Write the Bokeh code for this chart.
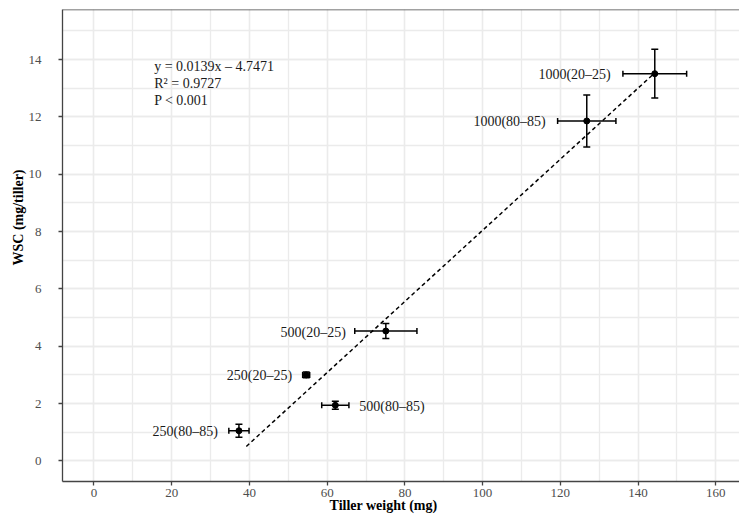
import numpy as np
from bokeh.plotting import figure
from bokeh.models import (ColumnDataSource, Whisker, TeeHead, Label, Span,
                          FixedTicker)
from bokeh.core.properties import value
from bokeh.embed import file_html
from bokeh.resources import INLINE

# ---- data ----
labels = ["250(80–85)", "250(20–25)", "500(80–85)", "500(20–25)", "1000(80–85)", "1000(20–25)"]
tiller_weight = [37.3, 54.6, 62.1, 75.1, 126.8, 144.3]
tiller_weight_err = [2.6, 0.9, 3.5, 8.0, 7.5, 8.2]
wsc = [1.05, 3.00, 1.94, 4.53, 11.86, 13.51]
wsc_err = [0.23, 0.10, 0.14, 0.26, 0.91, 0.85]
x_ticks = [0, 20, 40, 60, 80, 100, 120, 140, 160]
y_ticks = [0, 2, 4, 6, 8, 10, 12, 14]
equation_lines = ["y = 0.0139x – 4.7471", "R² = 0.9727", "P < 0.001"]
fit_start = 39.2

# ---- label placement (styling) ----
label_dx = [-21, -14, 24, -40, -41, -44]
label_align = ["right", "right", "left", "right", "right", "right"]

FONT = "Liberation Serif"
INK = "#1a1a1a"
AXIS = "#444444"
GRID = "#ebebeb"
NB = "\u00a0"

x = np.array(tiller_weight)
y = np.array(wsc)
xe = np.array(tiller_weight_err)
ye = np.array(wsc_err)

src = ColumnDataSource(dict(
    x=x, y=y,
    xl=x - xe, xu=x + xe,
    yl=y - ye, yu=y + ye,
    label=labels, dx=label_dx, align=label_align,
))

p = figure(width=739, height=525, output_backend="svg", toolbar_location=None,
           x_range=(-8.1, 166.1), y_range=(-0.72, 15.75),
           min_border_left=62, min_border_right=0, min_border_top=9,
           min_border_bottom=44)
p.background_fill_color = "white"
p.border_fill_color = "white"
p.outline_line_color = None

# axes
p.axis.axis_line_color = AXIS
p.axis.axis_line_width = 1.3
p.axis.major_tick_line_color = AXIS
p.axis.major_tick_line_width = 1.3
p.axis.major_tick_out = 4
p.axis.major_tick_in = 0
p.axis.minor_tick_line_color = None
p.axis.major_label_text_font = FONT
p.axis.major_label_text_font_size = "13px"
p.axis.major_label_text_color = "#4d4d4d"
p.axis.axis_label_text_font = FONT
p.axis.axis_label_text_font_size = "14px"
p.axis.axis_label_text_font_style = "bold"
p.axis.axis_label_text_color = "black"

p.xaxis.ticker = FixedTicker(ticks=x_ticks, minor_ticks=list(range(-10, 171, 10)))
p.yaxis.ticker = FixedTicker(ticks=y_ticks, minor_ticks=list(range(-1, 17, 1)))
p.xaxis.major_label_standoff = 3
p.yaxis.major_label_standoff = 17
p.xaxis.axis_label = "Tiller weight (mg)" + NB * 10
p.yaxis.axis_label = NB * 16 + "WSC (mg/tiller)"
p.xaxis.axis_label_standoff = -2
p.yaxis.axis_label_standoff = 0

# grid
p.xgrid.grid_line_color = GRID
p.ygrid.grid_line_color = GRID
p.xgrid.grid_line_width = 1.3
p.ygrid.grid_line_width = 1.3
p.xgrid.minor_grid_line_color = GRID
p.ygrid.minor_grid_line_color = GRID
p.xgrid.minor_grid_line_width = 1.3
p.ygrid.minor_grid_line_width = 1.3

# top frame line
p.add_layout(Span(location=p.y_range.end, dimension="width",
                  line_color=AXIS, line_width=1.3))

# regression line (least squares on the points)
slope, intercept = np.polyfit(x, y, 1)
fx = np.array([fit_start, x.max()])
p.line(fx, slope * fx + intercept, line_color="black", line_width=1.5,
       line_dash="4 3")

# error bars
p.add_layout(Whisker(source=src, base="x", lower="yl", upper="yu", dimension="height",
                     line_color="black", line_width=1.5,
                     lower_head=TeeHead(size=7, line_color="black", line_width=1.5),
                     upper_head=TeeHead(size=7, line_color="black", line_width=1.5)))
p.add_layout(Whisker(source=src, base="y", lower="xl", upper="xu", dimension="width",
                     line_color="black", line_width=1.5,
                     lower_head=TeeHead(size=6, line_color="black", line_width=1.5),
                     upper_head=TeeHead(size=6, line_color="black", line_width=1.5)))

p.scatter("x", "y", source=src, size=6, color="black")

# point labels
p.text("x", "y", text="label", source=src, x_offset="dx", y_offset=1,
       text_align="align", text_baseline="middle",
       text_font=value(FONT), text_font_size="14px", text_color=INK)

# equation annotation
for i, t in enumerate(equation_lines):
    p.add_layout(Label(x=91.7, y=414.7 - i * 17, x_units="screen", y_units="screen",
                       text=t, text_font=FONT, text_font_size="14px",
                       text_color=INK, text_baseline="middle", text_align="left"))

open("out.html", "w").write(file_html(p, INLINE))
